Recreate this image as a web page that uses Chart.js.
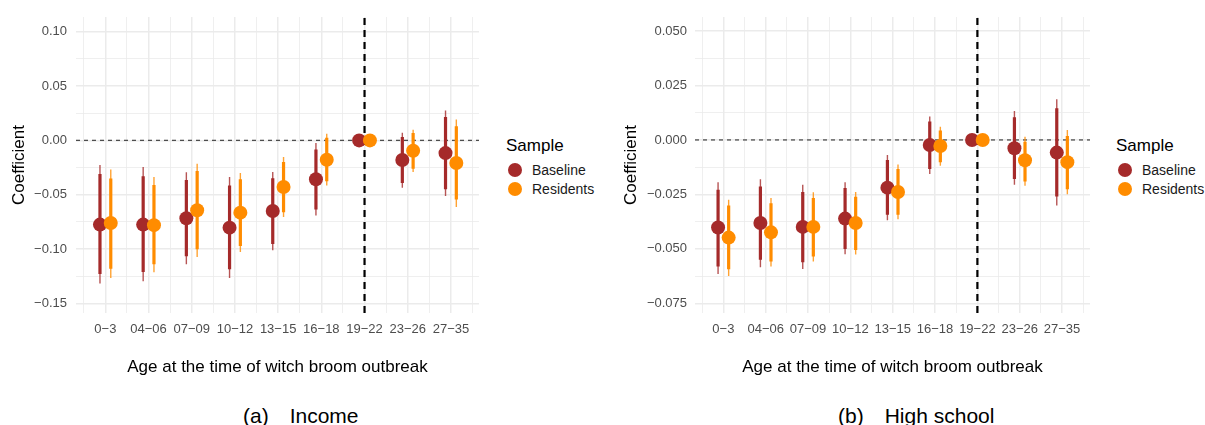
<!DOCTYPE html>
<html>
<head>
<meta charset="utf-8">
<script src="https://cdn.jsdelivr.net/npm/chart.js@4.4.1/dist/chart.umd.min.js"></script>
<style>
  body{margin:0;background:#fff;font-family:"Liberation Sans",Arial,sans-serif;}
  #page{position:relative;width:1205px;height:425px;overflow:hidden;}
  canvas{position:absolute;top:0;}
  .abs{position:absolute;white-space:nowrap;line-height:1;}
  .dot{position:absolute;width:14px;height:14px;border-radius:50%;}
</style>
</head>
<body>
<div id="page">
  <canvas id="incomeChart" width="490" height="390" style="left:0px;width:490px;height:390px"></canvas>
  <canvas id="schoolChart" width="490" height="390" style="left:610px;width:490px;height:390px"></canvas>

  <div class="abs" style="left:506px;top:137px;font-size:17px;color:#000">Sample</div>
  <div class="dot" style="left:508px;top:163px;background:#A52A2A"></div>
  <div class="abs" style="left:532px;top:163px;font-size:14px;color:#1a1a1a">Baseline</div>
  <div class="dot" style="left:508px;top:182px;background:#FF8C00"></div>
  <div class="abs" style="left:532px;top:182px;font-size:14px;color:#1a1a1a">Residents</div>

  <div class="abs" style="left:1116px;top:137px;font-size:17px;color:#000">Sample</div>
  <div class="dot" style="left:1118px;top:163px;background:#A52A2A"></div>
  <div class="abs" style="left:1142px;top:163px;font-size:14px;color:#1a1a1a">Baseline</div>
  <div class="dot" style="left:1118px;top:182px;background:#FF8C00"></div>
  <div class="abs" style="left:1142px;top:182px;font-size:14px;color:#1a1a1a">Residents</div>

  <div class="abs" style="left:243px;top:405px;font-size:21px;color:#000">(a)<span style="margin-left:21px">Income</span></div>
  <div class="abs" style="left:838px;top:405px;font-size:21px;color:#000">(b)<span style="margin-left:21px">High school</span></div>
</div>
<script>
// categories (age groups)
const categories = ["0\u22123","04\u221206","07\u221209","10\u221212","13\u221215","16\u221218","19\u221222","23\u221226","27\u221235"];
const refCategory = 6;

// (a) Income - Baseline
const incBaseEst  = [-0.0775,-0.0775,-0.0717,-0.0803,-0.0650,-0.0358,0,-0.0181,-0.0117];
const incBaseLo90 = [-0.1230,-0.1210,-0.1066,-0.1186,-0.0953,-0.0637,0,-0.0392,-0.0450];
const incBaseHi90 = [-0.0310,-0.0330,-0.0365,-0.0414,-0.0349,-0.0083,0, 0.0030, 0.0214];
const incBaseLo95 = [-0.1317,-0.1296,-0.1140,-0.1265,-0.1011,-0.0690,0,-0.0435,-0.0512];
const incBaseHi95 = [-0.0227,-0.0245,-0.0294,-0.0337,-0.0291,-0.0025,0, 0.0070, 0.0276];

// (a) Income - Residents
const incResEst  = [-0.0760,-0.0780,-0.0643,-0.0665,-0.0429,-0.0178,0,-0.0095,-0.0208];
const incResLo90 = [-0.1180,-0.1140,-0.1002,-0.0971,-0.0662,-0.0377,0,-0.0260,-0.0545];
const incResHi90 = [-0.0350,-0.0410,-0.0282,-0.0358,-0.0199, 0.0025,0, 0.0067, 0.0129];
const incResLo95 = [-0.1265,-0.1213,-0.1072,-0.1026,-0.0705,-0.0414,0,-0.0291,-0.0613];
const incResHi95 = [-0.0267,-0.0337,-0.0214,-0.0300,-0.0153, 0.0061,0, 0.0098, 0.0193];

// (b) High school - Baseline
const hsBaseEst  = [-0.0402,-0.0381,-0.0399,-0.0361,-0.0219,-0.0023,0,-0.0038,-0.0058];
const hsBaseLo90 = [-0.0581,-0.0550,-0.0561,-0.0500,-0.0343,-0.0133,0,-0.0179,-0.0260];
const hsBaseHi90 = [-0.0229,-0.0214,-0.0239,-0.0220,-0.0092, 0.0084,0, 0.0104, 0.0145];
const hsBaseLo95 = [-0.0615,-0.0584,-0.0592,-0.0524,-0.0368,-0.0156,0,-0.0206,-0.0301];
const hsBaseHi95 = [-0.0194,-0.0180,-0.0206,-0.0194,-0.0069, 0.0107,0, 0.0133, 0.0187];

// (b) High school - Residents
const hsResEst  = [-0.0448,-0.0424,-0.0399,-0.0381,-0.0239,-0.0028,0,-0.0093,-0.0102];
const hsResLo90 = [-0.0593,-0.0558,-0.0535,-0.0505,-0.0343,-0.0102,0,-0.0191,-0.0226];
const hsResHi90 = [-0.0301,-0.0290,-0.0266,-0.0261,-0.0133, 0.0043,0,-0.0008, 0.0018];
const hsResLo95 = [-0.0624,-0.0581,-0.0558,-0.0526,-0.0364,-0.0118,0,-0.0210,-0.0249];
const hsResHi95 = [-0.0274,-0.0266,-0.0240,-0.0239,-0.0113, 0.0061,0, 0.0015, 0.0046];

// y tick labels
const incTicks = [0.10, 0.05, 0.00, -0.05, -0.10, -0.15];
const hsTicks  = [0.050, 0.025, 0.000, -0.025, -0.050, -0.075];

const BASE_COL = "#A52A2A";
const RES_COL = "#FF8C00";
const DODGE = 0.125;
const FONT = "'Liberation Sans', Arial, sans-serif";

function ciLine(lo, hi, off, width, color, order){
    const pts = [];
    lo.forEach((l, i) => {
        pts.push({x: i + off, y: l}, {x: i + off, y: hi[i]}, {x: i + off, y: null});
    });
    return {data: pts, borderColor: color, borderWidth: width, pointRadius: 0,
            spanGaps: false, borderCapStyle: "butt", order: order};
}

function dots(est, off, color, order){
    return {data: est.map((v, i) => ({x: i + off, y: v})), showLine: false,
            pointRadius: 7, pointHoverRadius: 7, pointBackgroundColor: color,
            pointBorderWidth: 0, borderColor: color, order: order};
}

function withMinor(major){
    const s = [...major].sort((a, b) => a - b);
    const out = [];
    for(let i = 0; i < s.length; i++){
        out.push(s[i]);
        if(i < s.length - 1) out.push((s[i] + s[i + 1]) / 2);
    }
    return out;
}

function makeChart(id, cfg){
    const ctx = document.getElementById(id).getContext("2d");
    const xTicks = [];
    for(let v = -0.5; v <= categories.length - 0.5; v += 0.5) xTicks.push(v);
    const yTicks = withMinor(cfg.ticks);
    const isMajorY = v => cfg.ticks.some(t => Math.abs(t - v) < 1e-9);

    const s = cfg.series;
    const datasets = [
        {data: [{x: cfg.xMin, y: 0}, {x: cfg.xMax, y: 0}], borderColor: "#4D4D4D", borderWidth: 1.3,
         borderDash: [4, 4], pointRadius: 0, order: 20},
        {data: [{x: refCategory, y: cfg.yMin}, {x: refCategory, y: cfg.yMax}], borderColor: "#000000", borderWidth: 2.2,
         borderDash: [7, 5], pointRadius: 0, order: 19},
        ciLine(s.baseLo95, s.baseHi95, -DODGE, 1.4, "rgba(165,42,42,0.8)", 10),
        ciLine(s.baseLo90, s.baseHi90, -DODGE, 3.2, BASE_COL, 9),
        ciLine(s.resLo95, s.resHi95, DODGE, 1.4, "rgba(255,140,0,0.8)", 8),
        ciLine(s.resLo90, s.resHi90, DODGE, 3.2, RES_COL, 7),
        dots(s.baseEst, -DODGE, BASE_COL, 2),
        dots(s.resEst, DODGE, RES_COL, 1)
    ];

    return new Chart(ctx, {
        type: "line",
        data: {datasets: datasets},
        options: {
            responsive: false,
            animation: false,
            events: [],
            layout: {padding: {top: 17, right: cfg.padRight, bottom: 0, left: 0}},
            plugins: {legend: {display: false}, tooltip: {enabled: false}},
            scales: {
                x: {
                    type: "linear", min: cfg.xMin, max: cfg.xMax,
                    afterBuildTicks: sc => { sc.ticks = xTicks.map(v => ({value: v})); },
                    afterFit: sc => { sc.height = 77; },
                    border: {display: false},
                    grid: {color: "#EBEBEB", drawTicks: false,
                           lineWidth: c => Number.isInteger(c.tick.value) ? 1.5 : 0.8},
                    ticks: {autoSkip: false, maxRotation: 0, padding: 9, color: "#4D4D4D",
                            font: {family: FONT, size: 13},
                            callback: v => Number.isInteger(v) ? categories[v] : ""},
                    title: {display: true, text: "Age at the time of witch broom outbreak", color: "#000",
                            font: {family: FONT, size: 17}, padding: {top: 0, bottom: 12}}
                },
                y: {
                    type: "linear", min: cfg.yMin, max: cfg.yMax,
                    afterBuildTicks: sc => { sc.ticks = yTicks.map(v => ({value: v})); },
                    afterFit: sc => { sc.width = cfg.axisWidth; },
                    border: {display: false},
                    grid: {color: "#EBEBEB", drawTicks: false,
                           lineWidth: c => isMajorY(c.tick.value) ? 1.5 : 0.8},
                    ticks: {padding: cfg.tickPad, color: "#4D4D4D", font: {family: FONT, size: 13},
                            callback: v => isMajorY(v) ? v.toFixed(cfg.decimals).replace("-", "\u2212") : ""},
                    title: {display: true, text: "Coefficient", color: "#000",
                            font: {family: FONT, size: 17}, padding: {top: cfg.titlePad, bottom: 0}}
                }
            }
        }
    });
}

document.addEventListener("DOMContentLoaded", () => {
    makeChart("incomeChart", {
        xMin: -0.68, xMax: 8.65, yMin: -0.1588, yMax: 0.1135,
        ticks: incTicks, decimals: 2, axisWidth: 76, padRight: 11, tickPad: 9, titlePad: 9,
        series: {baseEst: incBaseEst, baseLo90: incBaseLo90, baseHi90: incBaseHi90, baseLo95: incBaseLo95, baseHi95: incBaseHi95,
                 resEst: incResEst, resLo90: incResLo90, resHi90: incResHi90, resLo95: incResLo95, resHi95: incResHi95}
    });
    makeChart("schoolChart", {
        xMin: -0.67, xMax: 8.66, yMin: -0.0794, yMax: 0.0564,
        ticks: hsTicks, decimals: 3, axisWidth: 85, padRight: 10, tickPad: 8, titlePad: 11,
        series: {baseEst: hsBaseEst, baseLo90: hsBaseLo90, baseHi90: hsBaseHi90, baseLo95: hsBaseLo95, baseHi95: hsBaseHi95,
                 resEst: hsResEst, resLo90: hsResLo90, resHi90: hsResHi90, resLo95: hsResLo95, resHi95: hsResHi95}
    });
});
</script>
</body>
</html>
